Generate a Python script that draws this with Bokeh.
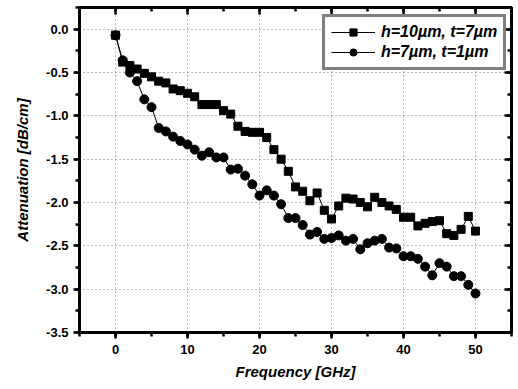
from bokeh.plotting import figure
from bokeh.models import (LinearAxis, SingleIntervalTicker, Range1d, Legend,
                          LegendItem, PrintfTickFormatter)
from bokeh.embed import file_html
from bokeh.resources import INLINE

# Frequency sweep, 1 GHz steps
freq_ghz = list(range(0, 51))

# h=10 µm, t=7 µm
atten_h10_t7 = [
    -0.07, -0.38, -0.42, -0.46, -0.51, -0.55, -0.60, -0.62, -0.69, -0.71,
    -0.74, -0.78, -0.87, -0.87, -0.87, -0.94, -0.98, -1.12, -1.18, -1.19,
    -1.19, -1.25, -1.39, -1.50, -1.64, -1.82, -1.87, -1.98, -1.89, -2.09,
    -2.19, -2.04, -1.95, -1.96, -2.00, -2.05, -1.94, -2.00, -2.04, -2.08,
    -2.17, -2.17, -2.27, -2.24, -2.22, -2.21, -2.36, -2.38, -2.31, -2.16,
    -2.33,
]

# h=7 µm, t=1 µm
atten_h7_t1 = [
    -0.07, -0.36, -0.50, -0.60, -0.81, -0.90, -1.14, -1.18, -1.24, -1.29,
    -1.33, -1.39, -1.46, -1.42, -1.48, -1.48, -1.62, -1.61, -1.69, -1.79,
    -1.92, -1.86, -1.92, -2.02, -2.18, -2.18, -2.26, -2.37, -2.34, -2.42,
    -2.41, -2.38, -2.44, -2.42, -2.54, -2.47, -2.44, -2.42, -2.52, -2.53,
    -2.62, -2.62, -2.65, -2.74, -2.84, -2.70, -2.74, -2.85, -2.85, -2.95,
    -3.05,
]

series_labels = ["h=10µm, t=7µm", "h=7µm, t=1µm"]

FONT = "Liberation Sans"

p = figure(
    width=518, height=389,
    output_backend="svg", toolbar_location=None,
    x_range=Range1d(-5, 55), y_range=Range1d(-3.5, 0.25),
    x_axis_location=None, y_axis_location=None,
    min_border_left=79, min_border_right=7, min_border_top=7, min_border_bottom=57,
)
# transparent frame background so the inward ticks and full axis lines stay visible
p.background_fill_color = None
p.border_fill_color = "white"
p.outline_line_color = "black"
p.outline_line_width = 3

# Bottom and left axes: labelled, ticks pointing outward
bottom_axis = LinearAxis(ticker=SingleIntervalTicker(interval=10, num_minor_ticks=2),
                         axis_label="Frequency [GHz]")
left_axis = LinearAxis(ticker=SingleIntervalTicker(interval=0.5, num_minor_ticks=2),
                       axis_label="Attenuation [dB/cm]",
                       formatter=PrintfTickFormatter(format="%.1f"))
# Top and right axes: ticks pointing inward, no labels
top_axis = LinearAxis(ticker=SingleIntervalTicker(interval=10, num_minor_ticks=2),
                      major_label_text_alpha=0, major_label_text_font_size="1px",
                      major_label_standoff=0)
right_axis = LinearAxis(ticker=SingleIntervalTicker(interval=0.5, num_minor_ticks=2),
                        major_label_text_alpha=0, major_label_text_font_size="1px",
                        major_label_standoff=0)

for ax in (bottom_axis, left_axis, top_axis, right_axis):
    ax.axis_line_width = 3
    ax.axis_line_color = "black"
    ax.major_tick_line_width = 2.5
    ax.minor_tick_line_width = 2.5

for ax in (bottom_axis, left_axis):
    ax.major_tick_out = 6
    ax.major_tick_in = 0
    ax.minor_tick_out = 4
    ax.minor_tick_in = 0
    ax.major_label_text_font = FONT
    ax.major_label_text_font_style = "bold"
    ax.major_label_text_font_size = "13px"
    ax.major_label_text_color = "black"
    ax.axis_label_text_font = FONT
    ax.axis_label_text_font_style = "bold italic"
    ax.axis_label_text_font_size = "15px"
    ax.axis_label_text_color = "black"
bottom_axis.major_label_standoff = 6
bottom_axis.axis_label_standoff = 6
left_axis.major_label_standoff = 5
left_axis.axis_label_standoff = 12

for ax in (top_axis, right_axis):
    ax.major_tick_in = 7
    ax.major_tick_out = 0
    ax.minor_tick_in = 4
    ax.minor_tick_out = 0

p.add_layout(bottom_axis, "below")
p.add_layout(left_axis, "left")
p.add_layout(top_axis, "above")
p.add_layout(right_axis, "right")

# Dotted grid at the major ticks
p.xgrid.ticker = bottom_axis.ticker
p.ygrid.ticker = left_axis.ticker
for g in (p.xgrid[0], p.ygrid[0]):
    g.grid_line_color = "#777777"
    g.grid_line_dash = "1 3"
    g.grid_line_width = 1

l1 = p.line(freq_ghz, atten_h10_t7, line_color="black", line_width=1)
m1 = p.scatter(freq_ghz, atten_h10_t7, marker="square", size=8,
               fill_color="black", line_color="black")
l2 = p.line(freq_ghz, atten_h7_t1, line_color="black", line_width=1)
m2 = p.scatter(freq_ghz, atten_h7_t1, marker="circle", size=9,
               fill_color="black", line_color="black")

legend = Legend(
    items=[
        LegendItem(label=series_labels[0], renderers=[l1, m1]),
        LegendItem(label=series_labels[1], renderers=[l2, m2]),
    ],
    location=(243, 262),
    padding=6,
    spacing=2,
    glyph_width=44,
    glyph_height=18,
    label_text_font=FONT,
    label_text_font_style="bold italic",
    label_text_font_size="16px",
    label_text_color="black",
    border_line_color="black",
    border_line_width=3,
    background_fill_color="white",
    background_fill_alpha=1.0,
    label_standoff=6,
)
p.add_layout(legend, "center")

open("out.html", "w").write(file_html(p, INLINE))
